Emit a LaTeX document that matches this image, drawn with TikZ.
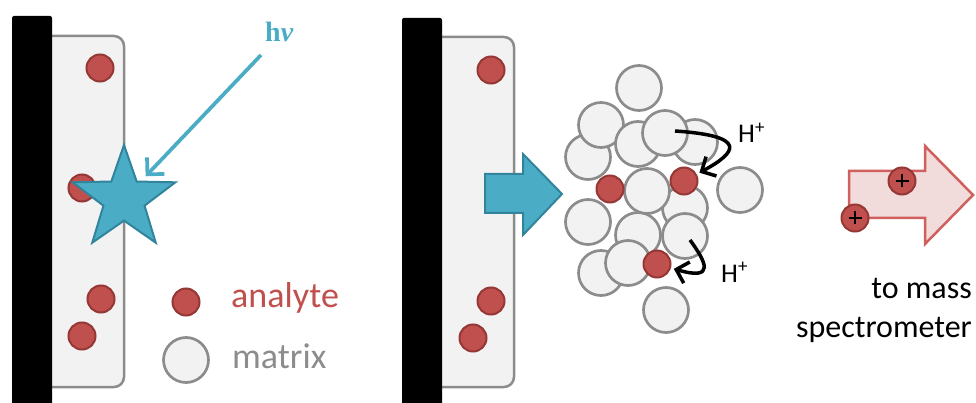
\documentclass[tikz,border=0pt]{standalone}
\usepackage{fontspec}
\setmainfont{Carlito}
\newfontfamily\hvfont{Liberation Serif}
\usetikzlibrary{arrows.meta,shapes.geometric}

\definecolor{analyteRed}{HTML}{C0504D}
\definecolor{analyteEdge}{HTML}{953735}
\definecolor{matrixFill}{HTML}{F2F2F2}
\definecolor{matrixEdge}{HTML}{8C8C8C}
\definecolor{laserBlue}{HTML}{4BACC6}
\definecolor{laserEdge}{HTML}{31849B}
\definecolor{ionFill}{HTML}{F2DCDB}
\definecolor{ionEdge}{HTML}{D0605D}

\begin{document}
\begin{tikzpicture}[x=1pt,y=-1pt,
  plate/.style={fill=black, rounded corners=2pt},
  film/.style={fill=matrixFill, draw=matrixEdge, line width=2.5pt, rounded corners=10pt},
  analyte/.style={circle, fill=analyteRed, draw=analyteEdge, line width=2pt,
    minimum size=27pt, inner sep=0pt},
  matrixball/.style={circle, fill=matrixFill, draw=matrixEdge, line width=2.7pt,
    minimum size=45pt, inner sep=0pt},
  ion/.style={analyte, path picture={
      \draw[black, line width=1.8pt]
        ([xshift=-6.5pt]path picture bounding box.center) -- ++(13pt,0pt)
        ([yshift=-6.5pt]path picture bounding box.center) -- ++(0pt,13pt);}},
  laserbeam/.style={draw=laserBlue, line width=3.7pt,
    -{Straight Barb[length=12pt,width=24pt]}},
  proton/.style={draw=black, line width=3.5pt,
    -{Straight Barb[length=11pt,width=22pt]}},
  block/.style={line width=2pt, line join=miter},
  label/.style={inner sep=0pt},
]
\useasboundingbox (0,0) rectangle (976,403);

% ---------- left panel: sample spot hit by the laser ----------
\draw[film] (40,36) rectangle (124,387);
\fill[plate] (12,16) rectangle (52,410);
\node[analyte] (a1) at (100,68) {};
\node[analyte] (a2) at (82,188) {};
\node[analyte] (a3) at (101,299) {};
\node[analyte] (a4) at (82,336) {};

\node[star, star points=5, star point ratio=2.5, minimum size=108pt, inner sep=0pt,
      fill=laserBlue, draw=laserEdge, line width=2pt] (burst) at (124,199) {};
\coordinate (beam) at (261,55);
\draw[laserbeam, shorten >=6pt] (beam) -- (burst);
\node[label, anchor=base west, text=laserBlue,
      font=\hvfont\bfseries\fontsize{28}{30}\selectfont] (hv) at (265,42) {h\textit{ν}};

% legend
\node[analyte] (keyA) at (186,302) {};
\node[matrixball] (keyM) at (186,360) {};
\node[label, anchor=base west, text=analyteRed, font=\fontsize{36}{40}\selectfont]
  (lblA) at (231,307) {analyte};
\node[label, anchor=base west, text=matrixEdge, font=\fontsize{36}{40}\selectfont]
  (lblM) at (232,368) {matrix};

% ---------- middle panel: desorbed plume ----------
\draw[film] (430,37) rectangle (514,387);
\fill[plate] (402,18) rectangle (442,410);
\node[analyte] (b1) at (491,70) {};
\node[analyte] (b2) at (491,301) {};
\node[analyte] (b3) at (473,338) {};

\draw[block, fill=laserBlue, draw=laserEdge]
  (485,174) -- (523,174) -- (523,154) -- (562,194) -- (523,235) -- (523,213)
  -- (485,213) -- cycle;

% matrix cloud, back to front
\node[matrixball] (m3)  at (588,157) {};
\node[matrixball] (m2)  at (601,125) {};
\node[matrixball] (m4)  at (638,144) {};
\node[matrixball] (m6)  at (695,142) {};
\node[matrixball] (m5)  at (665,133) {};
\node[matrixball] (m9)  at (685,208) {};
\node[matrixball] (m11) at (638,235) {};
\node[matrixball] (m12) at (685,236) {};
\node[matrixball] (m8)  at (647,191) {};
\node[matrixball] (m13) at (601,273) {};
\node[matrixball] (m14) at (628,263) {};
\node[matrixball] (m10) at (588,222) {};
\node[matrixball] (m1)  at (639,88) {};
\node[matrixball] (m7)  at (740,190) {};
\node[matrixball] (m15) at (666,310) {};

\node[analyte] (c1) at (610,189) {};
\node[analyte] (c2) at (684,181) {};
\node[analyte] (c3) at (657,264) {};

% proton transfer
\coordinate (hsrc1) at (675,131);
\coordinate (hsrc2) at (690,240);
\draw[proton, shorten >=3pt] (hsrc1) .. controls (750,136) and (736,153) .. (c2);
\draw[proton, shorten >=3pt] (hsrc2) .. controls (706,262) and (716,281) .. (c3);
\node[label, anchor=base west, font=\fontsize{27}{27}\selectfont] (hp1) at (738,143) {H\textsuperscript{+}};
\node[label, anchor=base west, font=\fontsize{27}{27}\selectfont] (hp2) at (721,282) {H\textsuperscript{+}};

% ---------- right panel: ions leave ----------
\draw[block, fill=ionFill, draw=ionEdge, line width=2.5pt]
  (849,171) -- (925,171) -- (925,146) -- (973,195) -- (925,244) -- (925,218)
  -- (849,218) -- cycle;
\node[ion] (i1) at (902,181) {};
\node[ion] (i2) at (855,218) {};
\node[label, anchor=base east, font=\fontsize{32}{38}\selectfont] (dest1) at (972,298) {to mass};
\node[label, anchor=base east, font=\fontsize{32}{38}\selectfont] (dest2) at (972,337) {spectrometer};
\end{tikzpicture}
\end{document}
